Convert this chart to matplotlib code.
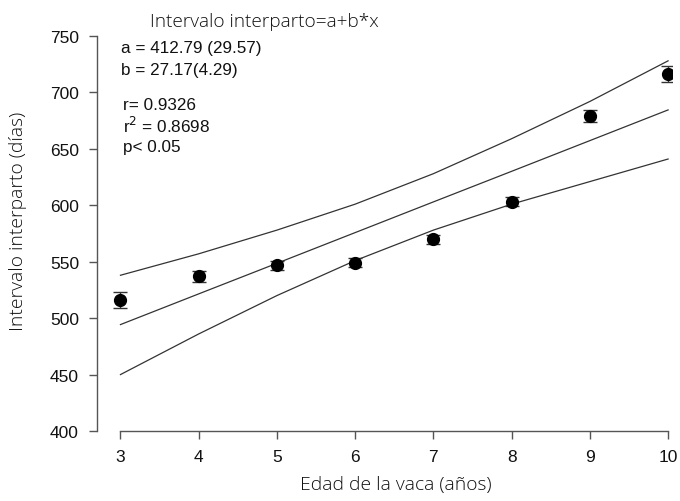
import matplotlib.pyplot as plt

# datos
edad = [3, 4, 5, 6, 7, 8, 9, 10]
intervalo = [516, 537, 547, 549, 570, 603, 679, 716]
error = [7, 5, 4, 4, 4, 4, 5, 7]
ajuste = [494.3, 521.5, 548.6, 575.8, 603.0, 630.1, 657.3, 684.5]
banda_sup = [538, 557, 578, 601, 628, 659, 692, 728]
banda_inf = [450, 486, 520, 551, 578, 601, 621, 641]
yticks = [400, 450, 500, 550, 600, 650, 700, 750]

fig = plt.figure(figsize=(6.8, 5.02), dpi=100)
ax = fig.add_axes([97 / 680, 70 / 502, 575 / 680, 395 / 502])

line_col = "#333333"
ax.plot(edad, ajuste, color=line_col, lw=0.9)
ax.plot(edad, banda_sup, color=line_col, lw=0.9)
ax.plot(edad, banda_inf, color=line_col, lw=0.9)
ax.errorbar(edad, intervalo, yerr=error, fmt="o", color="black", ms=8.5,
            ecolor="#333333", elinewidth=1, capsize=5, capthick=1, zorder=3)

ax.set_xlim(2.7, 10.05)
ax.set_ylim(400, 750)
ax.set_xticks(edad)
ax.set_yticks(yticks)
ax.spines["top"].set_visible(False)
ax.spines["right"].set_visible(False)
ax.spines["bottom"].set_bounds(3, 10)
for s in ["left", "bottom"]:
    ax.spines[s].set_color("#555555")
    ax.spines[s].set_linewidth(1.0)
ax.tick_params(direction="out", length=6, width=1, color="#555555",
               labelsize=12.5, pad=7, labelcolor="#111111")
for lab in ax.get_xticklabels() + ax.get_yticklabels():
    lab.set_family("Liberation Sans")

etiqueta = dict(family="Open Sans", weight="light", fontsize=13.9, color="#111111")
ax.set_xlabel("Edad de la vaca (años)", va="center", **etiqueta)
ax.set_ylabel("Intervalo interparto (días)", va="center", **etiqueta)
ax.xaxis.set_label_coords(0.52, -0.134)
ax.yaxis.set_label_coords(-0.138, 0.532)

fig.text(150 / 680, 1 - 22 / 502, "Intervalo interparto=a+b*x", family="Open Sans",
         weight="light", fontsize=13.7, color="#111111", va="center")
txt = dict(family="Liberation Sans", fontsize=12.3, va="center", color="#111111")
fig.text(121 / 680, 1 - 48 / 502, "a = 412.79 (29.57)", **txt)
fig.text(121 / 680, 1 - 71 / 502, "b = 27.17(4.29)", **txt)
fig.text(123 / 680, 1 - 105 / 502, "r= 0.9326", **txt)
fig.text(123 / 680, 1 - 126 / 502, "r$^2$ = 0.8698", **txt)
fig.text(123 / 680, 1 - 148 / 502, "p< 0.05", **txt)

fig.savefig("out.png", dpi=100)
